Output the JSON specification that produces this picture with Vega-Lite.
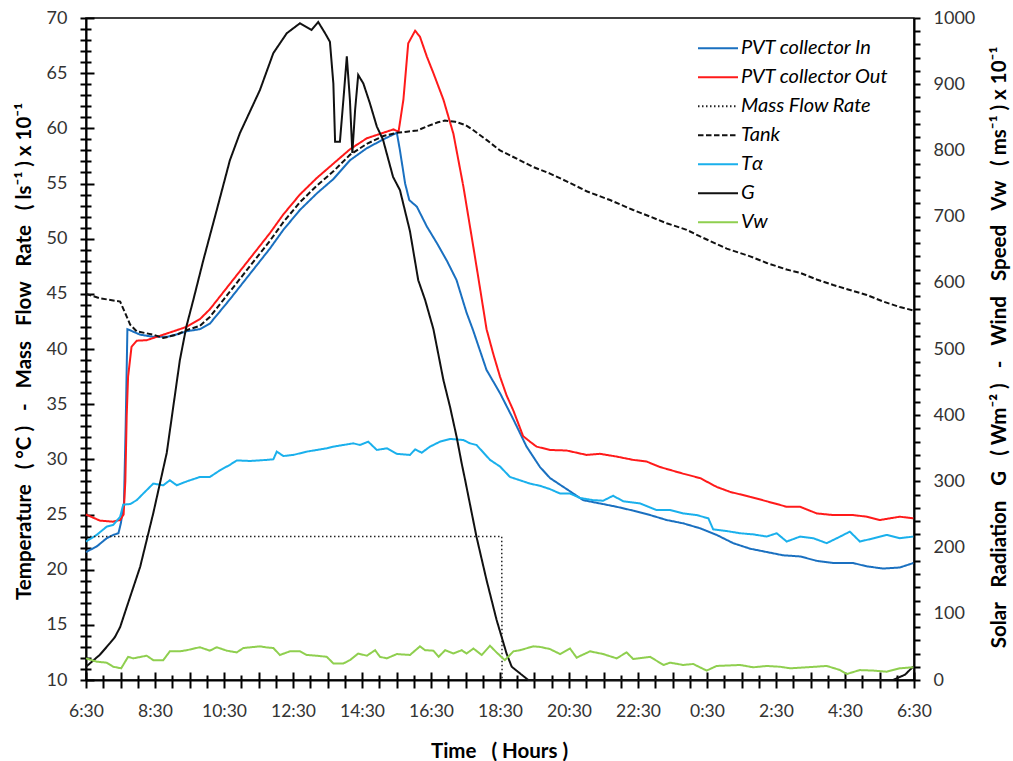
{
  "$schema": "https://vega.github.io/schema/vega-lite/v6.json",
  "width": 828,
  "height": 662,
  "autosize": {"type": "none"},
  "padding": {"left": 86, "top": 18, "right": 99, "bottom": 81},
  "background": "white",
  "config": {
    "font": "Lato",
    "view": {"stroke": "black", "strokeWidth": 1.5},
    "axis": {
      "domainColor": "black",
      "domainWidth": 2,
      "labelColor": "#333",
      "labelFontSize": 18,
      "labelFont": "Lato",
      "titleFont": "Lato",
      "titleFontSize": 20.5,
      "titleFontWeight": "bold",
      "titleColor": "black",
      "labelFlush": false,
      "labelOverlap": false,
      "ticks": true,
      "tickColor": "black",
      "tickWidth": 2,
      "grid": true,
      "gridColor": "black",
      "gridWidth": 2,
      "gridOpacity": 1
    }
  },
  "datasets": {
    "d": [
      {"s":"PVT collector In","t":0,"v":21.6},{"s":"PVT collector In","t":0.31,"v":22.1},{"s":"PVT collector In","t":0.6,"v":22.85},{"s":"PVT collector In","t":0.79,"v":23.15},{"s":"PVT collector In","t":0.94,"v":23.3},{"s":"PVT collector In","t":1.01,"v":24.2},{"s":"PVT collector In","t":1.1,"v":26},{"s":"PVT collector In","t":1.15,"v":33},{"s":"PVT collector In","t":1.2,"v":41.8},{"s":"PVT collector In","t":1.57,"v":41.3},{"s":"PVT collector In","t":1.95,"v":41.1},{"s":"PVT collector In","t":2.34,"v":41.1},{"s":"PVT collector In","t":2.72,"v":41.4},{"s":"PVT collector In","t":2.91,"v":41.6},{"s":"PVT collector In","t":3.3,"v":41.8},{"s":"PVT collector In","t":3.59,"v":42.3},{"s":"PVT collector In","t":4.17,"v":44.5},{"s":"PVT collector In","t":4.75,"v":46.8},{"s":"PVT collector In","t":5.33,"v":49.1},{"s":"PVT collector In","t":5.72,"v":50.8},{"s":"PVT collector In","t":6.2,"v":52.6},{"s":"PVT collector In","t":6.69,"v":54.1},{"s":"PVT collector In","t":7.17,"v":55.4},{"s":"PVT collector In","t":7.65,"v":57.1},{"s":"PVT collector In","t":8.14,"v":58.2},{"s":"PVT collector In","t":8.62,"v":59.0},{"s":"PVT collector In","t":9.01,"v":59.6},{"s":"PVT collector In","t":9.1,"v":58.0},{"s":"PVT collector In","t":9.25,"v":55.0},{"s":"PVT collector In","t":9.37,"v":53.5},{"s":"PVT collector In","t":9.59,"v":52.9},{"s":"PVT collector In","t":9.88,"v":51.1},{"s":"PVT collector In","t":10.17,"v":49.6},{"s":"PVT collector In","t":10.46,"v":48.0},{"s":"PVT collector In","t":10.74,"v":46.25},{"s":"PVT collector In","t":11.03,"v":43.3},{"s":"PVT collector In","t":11.22,"v":41.7},{"s":"PVT collector In","t":11.61,"v":38.1},{"s":"PVT collector In","t":12.0,"v":36.0},{"s":"PVT collector In","t":12.39,"v":33.6},{"s":"PVT collector In","t":12.77,"v":31.15},{"s":"PVT collector In","t":13.16,"v":29.3},{"s":"PVT collector In","t":13.45,"v":28.3},{"s":"PVT collector In","t":13.74,"v":27.7},{"s":"PVT collector In","t":14.03,"v":27.1},{"s":"PVT collector In","t":14.41,"v":26.3},{"s":"PVT collector In","t":14.9,"v":26.0},{"s":"PVT collector In","t":15.38,"v":25.7},{"s":"PVT collector In","t":15.86,"v":25.35},{"s":"PVT collector In","t":16.35,"v":24.95},{"s":"PVT collector In","t":16.83,"v":24.5},{"s":"PVT collector In","t":17.31,"v":24.2},{"s":"PVT collector In","t":17.8,"v":23.75},{"s":"PVT collector In","t":18.28,"v":23.15},{"s":"PVT collector In","t":18.76,"v":22.4},{"s":"PVT collector In","t":19.25,"v":21.9},{"s":"PVT collector In","t":19.73,"v":21.6},{"s":"PVT collector In","t":20.21,"v":21.3},{"s":"PVT collector In","t":20.7,"v":21.2},{"s":"PVT collector In","t":21.18,"v":20.8},{"s":"PVT collector In","t":21.66,"v":20.6},{"s":"PVT collector In","t":22.24,"v":20.6},{"s":"PVT collector In","t":22.63,"v":20.3},{"s":"PVT collector In","t":23.11,"v":20.1},{"s":"PVT collector In","t":23.59,"v":20.2},{"s":"PVT collector In","t":23.98,"v":20.6},

      {"s":"PVT collector Out","t":0,"v":25.0},{"s":"PVT collector Out","t":0.4,"v":24.45},{"s":"PVT collector Out","t":0.78,"v":24.35},{"s":"PVT collector Out","t":0.99,"v":24.5},{"s":"PVT collector Out","t":1.09,"v":25.0},{"s":"PVT collector Out","t":1.14,"v":28},{"s":"PVT collector Out","t":1.18,"v":34},{"s":"PVT collector Out","t":1.22,"v":37.5},{"s":"PVT collector Out","t":1.32,"v":40.2},{"s":"PVT collector Out","t":1.47,"v":40.75},{"s":"PVT collector Out","t":1.76,"v":40.8},{"s":"PVT collector Out","t":2.05,"v":41.1},{"s":"PVT collector Out","t":2.34,"v":41.4},{"s":"PVT collector Out","t":2.53,"v":41.6},{"s":"PVT collector Out","t":2.91,"v":42.0},{"s":"PVT collector Out","t":3.3,"v":42.7},{"s":"PVT collector Out","t":3.59,"v":43.6},{"s":"PVT collector Out","t":4.17,"v":45.9},{"s":"PVT collector Out","t":4.75,"v":48.2},{"s":"PVT collector Out","t":5.33,"v":50.5},{"s":"PVT collector Out","t":5.72,"v":52.2},{"s":"PVT collector Out","t":6.2,"v":54.0},{"s":"PVT collector Out","t":6.69,"v":55.5},{"s":"PVT collector Out","t":7.17,"v":56.8},{"s":"PVT collector Out","t":7.65,"v":58.1},{"s":"PVT collector Out","t":8.14,"v":59.1},{"s":"PVT collector Out","t":8.62,"v":59.6},{"s":"PVT collector Out","t":8.91,"v":59.9},{"s":"PVT collector Out","t":9.06,"v":59.7},{"s":"PVT collector Out","t":9.2,"v":62.6},{"s":"PVT collector Out","t":9.34,"v":67.7},{"s":"PVT collector Out","t":9.54,"v":68.85},{"s":"PVT collector Out","t":9.68,"v":68.3},{"s":"PVT collector Out","t":9.88,"v":66.5},{"s":"PVT collector Out","t":10.07,"v":65.0},{"s":"PVT collector Out","t":10.36,"v":62.6},{"s":"PVT collector Out","t":10.65,"v":59.5},{"s":"PVT collector Out","t":10.94,"v":54.7},{"s":"PVT collector Out","t":11.23,"v":49.2},{"s":"PVT collector Out","t":11.37,"v":46.5},{"s":"PVT collector Out","t":11.61,"v":41.8},{"s":"PVT collector Out","t":11.81,"v":39.5},{"s":"PVT collector Out","t":12.0,"v":37.5},{"s":"PVT collector Out","t":12.19,"v":35.8},{"s":"PVT collector Out","t":12.39,"v":34.4},{"s":"PVT collector Out","t":12.67,"v":32.1},{"s":"PVT collector Out","t":12.87,"v":31.6},{"s":"PVT collector Out","t":13.06,"v":31.15},{"s":"PVT collector Out","t":13.45,"v":30.85},{"s":"PVT collector Out","t":13.93,"v":30.8},{"s":"PVT collector Out","t":14.51,"v":30.4},{"s":"PVT collector Out","t":14.9,"v":30.5},{"s":"PVT collector Out","t":15.38,"v":30.25},{"s":"PVT collector Out","t":15.86,"v":29.95},{"s":"PVT collector Out","t":16.25,"v":29.8},{"s":"PVT collector Out","t":16.64,"v":29.3},{"s":"PVT collector Out","t":17.31,"v":28.7},{"s":"PVT collector Out","t":17.8,"v":28.3},{"s":"PVT collector Out","t":18.28,"v":27.5},{"s":"PVT collector Out","t":18.67,"v":27.05},{"s":"PVT collector Out","t":19.25,"v":26.6},{"s":"PVT collector Out","t":19.73,"v":26.2},{"s":"PVT collector Out","t":20.31,"v":25.7},{"s":"PVT collector Out","t":20.7,"v":25.7},{"s":"PVT collector Out","t":21.18,"v":25.1},{"s":"PVT collector Out","t":21.66,"v":24.95},{"s":"PVT collector Out","t":22.24,"v":24.95},{"s":"PVT collector Out","t":22.63,"v":24.8},{"s":"PVT collector Out","t":23.01,"v":24.5},{"s":"PVT collector Out","t":23.59,"v":24.8},{"s":"PVT collector Out","t":23.98,"v":24.65},

      {"s":"Mass Flow Rate","t":0,"v":23},{"s":"Mass Flow Rate","t":12.05,"v":23},{"s":"Mass Flow Rate","t":12.06,"v":10},

      {"s":"Tank","t":0,"v":45.0},{"s":"Tank","t":0.4,"v":44.6},{"s":"Tank","t":0.99,"v":44.3},{"s":"Tank","t":1.13,"v":43.3},{"s":"Tank","t":1.28,"v":42.2},{"s":"Tank","t":1.47,"v":41.6},{"s":"Tank","t":1.95,"v":41.3},{"s":"Tank","t":2.24,"v":41.0},{"s":"Tank","t":2.63,"v":41.3},{"s":"Tank","t":2.91,"v":41.7},{"s":"Tank","t":3.3,"v":42.1},{"s":"Tank","t":3.59,"v":42.9},{"s":"Tank","t":4.17,"v":45.2},{"s":"Tank","t":4.75,"v":47.5},{"s":"Tank","t":5.33,"v":49.8},{"s":"Tank","t":5.72,"v":51.5},{"s":"Tank","t":6.2,"v":53.3},{"s":"Tank","t":6.69,"v":54.8},{"s":"Tank","t":7.17,"v":56.1},{"s":"Tank","t":7.65,"v":57.6},{"s":"Tank","t":8.14,"v":58.6},{"s":"Tank","t":8.62,"v":59.3},{"s":"Tank","t":9.01,"v":59.6},{"s":"Tank","t":9.3,"v":59.7},{"s":"Tank","t":9.6,"v":59.8},{"s":"Tank","t":9.9,"v":60.2},{"s":"Tank","t":10.2,"v":60.55},{"s":"Tank","t":10.4,"v":60.7},{"s":"Tank","t":10.7,"v":60.6},{"s":"Tank","t":11.0,"v":60.3},{"s":"Tank","t":11.22,"v":59.85},{"s":"Tank","t":11.61,"v":58.95},{"s":"Tank","t":12.0,"v":58.0},{"s":"Tank","t":12.58,"v":57.1},{"s":"Tank","t":12.96,"v":56.5},{"s":"Tank","t":13.45,"v":55.9},{"s":"Tank","t":13.93,"v":55.2},{"s":"Tank","t":14.51,"v":54.3},{"s":"Tank","t":15.19,"v":53.5},{"s":"Tank","t":15.86,"v":52.6},{"s":"Tank","t":16.35,"v":52.0},{"s":"Tank","t":16.83,"v":51.4},{"s":"Tank","t":17.41,"v":50.8},{"s":"Tank","t":17.8,"v":50.2},{"s":"Tank","t":18.57,"v":49.1},{"s":"Tank","t":19.25,"v":48.4},{"s":"Tank","t":19.73,"v":47.8},{"s":"Tank","t":20.31,"v":47.2},{"s":"Tank","t":20.7,"v":46.9},{"s":"Tank","t":21.18,"v":46.3},{"s":"Tank","t":21.66,"v":45.8},{"s":"Tank","t":22.14,"v":45.35},{"s":"Tank","t":22.63,"v":44.9},{"s":"Tank","t":23.11,"v":44.3},{"s":"Tank","t":23.59,"v":43.8},{"s":"Tank","t":23.98,"v":43.5},

      {"s":"Tα","t":0,"v":22.55},{"s":"Tα","t":0.31,"v":23.15},{"s":"Tα","t":0.6,"v":23.9},{"s":"Tα","t":0.79,"v":24.05},{"s":"Tα","t":0.99,"v":24.8},{"s":"Tα","t":1.08,"v":25.9},{"s":"Tα","t":1.28,"v":25.95},{"s":"Tα","t":1.47,"v":26.3},{"s":"Tα","t":1.66,"v":26.9},{"s":"Tα","t":1.95,"v":27.8},{"s":"Tα","t":2.24,"v":27.65},{"s":"Tα","t":2.43,"v":28.1},{"s":"Tα","t":2.63,"v":27.65},{"s":"Tα","t":2.92,"v":28.0},{"s":"Tα","t":3.3,"v":28.4},{"s":"Tα","t":3.59,"v":28.4},{"s":"Tα","t":3.88,"v":29.0},{"s":"Tα","t":4.17,"v":29.5},{"s":"Tα","t":4.37,"v":29.9},{"s":"Tα","t":4.75,"v":29.85},{"s":"Tα","t":5.24,"v":29.95},{"s":"Tα","t":5.43,"v":30.0},{"s":"Tα","t":5.53,"v":30.7},{"s":"Tα","t":5.72,"v":30.3},{"s":"Tα","t":6.01,"v":30.4},{"s":"Tα","t":6.4,"v":30.7},{"s":"Tα","t":6.69,"v":30.85},{"s":"Tα","t":6.98,"v":31.0},{"s":"Tα","t":7.17,"v":31.15},{"s":"Tα","t":7.46,"v":31.3},{"s":"Tα","t":7.75,"v":31.45},{"s":"Tα","t":7.94,"v":31.3},{"s":"Tα","t":8.18,"v":31.6},{"s":"Tα","t":8.43,"v":30.85},{"s":"Tα","t":8.72,"v":31.0},{"s":"Tα","t":9.01,"v":30.5},{"s":"Tα","t":9.39,"v":30.4},{"s":"Tα","t":9.54,"v":30.9},{"s":"Tα","t":9.73,"v":30.6},{"s":"Tα","t":9.97,"v":31.15},{"s":"Tα","t":10.26,"v":31.6},{"s":"Tα","t":10.55,"v":31.85},{"s":"Tα","t":10.94,"v":31.75},{"s":"Tα","t":11.13,"v":31.45},{"s":"Tα","t":11.32,"v":31.3},{"s":"Tα","t":11.71,"v":29.95},{"s":"Tα","t":12.0,"v":29.35},{"s":"Tα","t":12.29,"v":28.4},{"s":"Tα","t":12.58,"v":28.1},{"s":"Tα","t":12.87,"v":27.8},{"s":"Tα","t":13.16,"v":27.6},{"s":"Tα","t":13.45,"v":27.3},{"s":"Tα","t":13.74,"v":26.9},{"s":"Tα","t":14.03,"v":26.9},{"s":"Tα","t":14.32,"v":26.5},{"s":"Tα","t":14.7,"v":26.3},{"s":"Tα","t":14.99,"v":26.25},{"s":"Tα","t":15.28,"v":26.7},{"s":"Tα","t":15.57,"v":26.2},{"s":"Tα","t":16.06,"v":26.0},{"s":"Tα","t":16.54,"v":25.4},{"s":"Tα","t":16.93,"v":25.4},{"s":"Tα","t":17.31,"v":25.1},{"s":"Tα","t":17.7,"v":24.95},{"s":"Tα","t":18.04,"v":24.65},{"s":"Tα","t":18.18,"v":23.65},{"s":"Tα","t":18.57,"v":23.5},{"s":"Tα","t":18.96,"v":23.3},{"s":"Tα","t":19.34,"v":23.2},{"s":"Tα","t":19.73,"v":23.0},{"s":"Tα","t":20.02,"v":23.3},{"s":"Tα","t":20.31,"v":22.55},{"s":"Tα","t":20.7,"v":23.0},{"s":"Tα","t":21.08,"v":22.85},{"s":"Tα","t":21.47,"v":22.4},{"s":"Tα","t":21.86,"v":23.0},{"s":"Tα","t":22.14,"v":23.45},{"s":"Tα","t":22.43,"v":22.55},{"s":"Tα","t":22.84,"v":22.85},{"s":"Tα","t":23.21,"v":23.15},{"s":"Tα","t":23.59,"v":22.85},{"s":"Tα","t":23.98,"v":23.0},

      {"s":"G","t":0,"v":20},{"s":"G","t":0.4,"v":38},{"s":"G","t":0.7,"v":56},{"s":"G","t":0.84,"v":65},{"s":"G","t":0.99,"v":80},{"s":"G","t":1.18,"v":110},{"s":"G","t":1.57,"v":171},{"s":"G","t":1.95,"v":252},{"s":"G","t":2.34,"v":343},{"s":"G","t":2.72,"v":483},{"s":"G","t":2.91,"v":534},{"s":"G","t":3.11,"v":574},{"s":"G","t":3.4,"v":634},{"s":"G","t":3.79,"v":710},{"s":"G","t":4.17,"v":785},{"s":"G","t":4.46,"v":826},{"s":"G","t":5.04,"v":891},{"s":"G","t":5.43,"v":947},{"s":"G","t":5.82,"v":977},{"s":"G","t":6.2,"v":992},{"s":"G","t":6.54,"v":982},{"s":"G","t":6.73,"v":994},{"s":"G","t":6.93,"v":977},{"s":"G","t":7.07,"v":964},{"s":"G","t":7.17,"v":901},{"s":"G","t":7.22,"v":813},{"s":"G","t":7.36,"v":813},{"s":"G","t":7.46,"v":876},{"s":"G","t":7.56,"v":942},{"s":"G","t":7.65,"v":876},{"s":"G","t":7.72,"v":796},{"s":"G","t":7.8,"v":861},{"s":"G","t":7.89,"v":914},{"s":"G","t":8.04,"v":901},{"s":"G","t":8.23,"v":871},{"s":"G","t":8.43,"v":836},{"s":"G","t":8.61,"v":816},{"s":"G","t":8.9,"v":760},{"s":"G","t":9.1,"v":740},{"s":"G","t":9.39,"v":678},{"s":"G","t":9.63,"v":604},{"s":"G","t":9.83,"v":574},{"s":"G","t":10.07,"v":530},{"s":"G","t":10.36,"v":453},{"s":"G","t":10.55,"v":413},{"s":"G","t":10.74,"v":368},{"s":"G","t":10.89,"v":327},{"s":"G","t":10.99,"v":302},{"s":"G","t":11.32,"v":216},{"s":"G","t":11.61,"v":151},{"s":"G","t":11.9,"v":91},{"s":"G","t":12.19,"v":40},{"s":"G","t":12.34,"v":20},{"s":"G","t":12.58,"v":10},{"s":"G","t":12.82,"v":0},{"s":"G","t":23.39,"v":0},{"s":"G","t":23.74,"v":8},{"s":"G","t":23.97,"v":20},

      {"s":"Vw","t":0,"v":32.7},{"s":"Vw","t":0.31,"v":27.7},{"s":"Vw","t":0.6,"v":26.2},{"s":"Vw","t":0.79,"v":20.0},{"s":"Vw","t":1.02,"v":17.7},{"s":"Vw","t":1.22,"v":35.0},{"s":"Vw","t":1.37,"v":32.7},{"s":"Vw","t":1.76,"v":36.7},{"s":"Vw","t":1.95,"v":30.0},{"s":"Vw","t":2.24,"v":30.0},{"s":"Vw","t":2.43,"v":43.3},{"s":"Vw","t":2.72,"v":43.3},{"s":"Vw","t":2.92,"v":45.0},{"s":"Vw","t":3.3,"v":49.5},{"s":"Vw","t":3.59,"v":44.3},{"s":"Vw","t":3.79,"v":49.5},{"s":"Vw","t":4.08,"v":44.3},{"s":"Vw","t":4.37,"v":41.7},{"s":"Vw","t":4.56,"v":48.3},{"s":"Vw","t":5.04,"v":50.8},{"s":"Vw","t":5.24,"v":49.2},{"s":"Vw","t":5.43,"v":48.3},{"s":"Vw","t":5.62,"v":37.8},{"s":"Vw","t":5.91,"v":43.3},{"s":"Vw","t":6.2,"v":43.3},{"s":"Vw","t":6.4,"v":37.8},{"s":"Vw","t":6.69,"v":36.7},{"s":"Vw","t":6.98,"v":35.0},{"s":"Vw","t":7.17,"v":25.0},{"s":"Vw","t":7.46,"v":25.0},{"s":"Vw","t":7.65,"v":30.0},{"s":"Vw","t":7.89,"v":40.0},{"s":"Vw","t":8.14,"v":36.7},{"s":"Vw","t":8.38,"v":45.0},{"s":"Vw","t":8.52,"v":35.0},{"s":"Vw","t":8.72,"v":32.7},{"s":"Vw","t":9.01,"v":39.2},{"s":"Vw","t":9.39,"v":37.8},{"s":"Vw","t":9.68,"v":50.8},{"s":"Vw","t":9.83,"v":45.0},{"s":"Vw","t":10.07,"v":44.3},{"s":"Vw","t":10.22,"v":35.0},{"s":"Vw","t":10.41,"v":45.0},{"s":"Vw","t":10.65,"v":40.0},{"s":"Vw","t":10.89,"v":45.0},{"s":"Vw","t":11.03,"v":40.0},{"s":"Vw","t":11.23,"v":47.5},{"s":"Vw","t":11.47,"v":37.8},{"s":"Vw","t":11.71,"v":51.7},{"s":"Vw","t":11.9,"v":41.7},{"s":"Vw","t":12.14,"v":30.0},{"s":"Vw","t":12.39,"v":43.3},{"s":"Vw","t":12.58,"v":45.0},{"s":"Vw","t":12.96,"v":50.8},{"s":"Vw","t":13.16,"v":50.0},{"s":"Vw","t":13.45,"v":46.7},{"s":"Vw","t":13.74,"v":39.2},{"s":"Vw","t":14.03,"v":47.5},{"s":"Vw","t":14.22,"v":33.8},{"s":"Vw","t":14.61,"v":43.3},{"s":"Vw","t":14.99,"v":39.2},{"s":"Vw","t":15.38,"v":32.7},{"s":"Vw","t":15.67,"v":41.7},{"s":"Vw","t":15.86,"v":31.7},{"s":"Vw","t":16.35,"v":35.0},{"s":"Vw","t":16.74,"v":22.7},{"s":"Vw","t":16.93,"v":26.2},{"s":"Vw","t":17.31,"v":22.7},{"s":"Vw","t":17.6,"v":24.2},{"s":"Vw","t":17.99,"v":14.2},{"s":"Vw","t":18.28,"v":21.2},{"s":"Vw","t":18.96,"v":22.7},{"s":"Vw","t":19.34,"v":19.2},{"s":"Vw","t":19.73,"v":21.2},{"s":"Vw","t":20.12,"v":20.0},{"s":"Vw","t":20.41,"v":17.7},{"s":"Vw","t":20.89,"v":19.2},{"s":"Vw","t":21.47,"v":21.2},{"s":"Vw","t":21.86,"v":15.0},{"s":"Vw","t":22.05,"v":9.0},{"s":"Vw","t":22.43,"v":15.0},{"s":"Vw","t":22.82,"v":14.2},{"s":"Vw","t":23.21,"v":12.5},{"s":"Vw","t":23.59,"v":17.7},{"s":"Vw","t":23.98,"v":19.2}
    ]
  },
  "data": {"name": "d"},
  "encoding": {
    "x": {
      "field": "t",
      "type": "quantitative",
      "scale": {"domain": [0, 24], "nice": false, "zero": false},
      "axis": {
        "title": "Time \u00a0\u00a0( Hours )",
        "values": [0,0.5,1,1.5,2,2.5,3,3.5,4,4.5,5,5.5,6,6.5,7,7.5,8,8.5,9,9.5,10,10.5,11,11.5,12,12.5,13,13.5,14,14.5,15,15.5,16,16.5,17,17.5,18,18.5,19,19.5,20,20.5,21,21.5,22,22.5,23,23.5,24],
        "labelExpr": "datum.value % 2 === 0 ? ((datum.value + 6) % 24) + ':30' : ''",
        "tickSize": 8,
        "gridDash": {"condition": {"test": "datum.value % 1 === 0", "value": [0, 654, 8, 2000]}, "value": [0, 657, 5, 2000]},
        "labelFontSize": 17.5,
        "labelPadding": 14,
        "titleX": 413,
        "titleY": 77,
        "titleBaseline": "alphabetic",
        "titleAlign": "center"
      }
    }
  },
  "layer": [
    {
      "encoding": {
        "y": {
          "field": "v",
          "type": "quantitative",
          "scale": {"domain": [10, 70], "nice": false, "zero": false},
          "axis": {
            "title": "Temperature \u00a0\u00a0( °C ) \u00a0\u00a0- \u00a0\u00a0Mass \u00a0\u00a0Flow \u00a0\u00a0Rate \u00a0\u00a0( ls⁻¹ ) x 10⁻¹",
            "values": [10,11,12,13,14,15,16,17,18,19,20,21,22,23,24,25,26,27,28,29,30,31,32,33,34,35,36,37,38,39,40,41,42,43,44,45,46,47,48,49,50,51,52,53,54,55,56,57,58,59,60,61,62,63,64,65,66,67,68,69,70],
            "labelExpr": "datum.value % 5 === 0 ? datum.label : ''",
            "tickSize": 6,
            "gridDash": {"condition": {"test": "datum.value % 5 === 0", "value": [8, 2000]}, "value": [5, 2000]},
            "labelPadding": 13,
            "titleX": -62,
            "titleY": 333,
            "titleAngle": 270,
            "titleAlign": "center",
            "titleBaseline": "middle"
          }
        }
      },
      "layer": [
        {
          "transform": [{"filter": "datum.s !== 'G' && datum.s !== 'Vw' && datum.s !== 'Mass Flow Rate'"}],
          "mark": {"type": "line", "strokeWidth": 2},
          "encoding": {
            "color": {
              "field": "s",
              "type": "nominal",
              "scale": {
                "domain": ["PVT collector In", "PVT collector Out", "Mass Flow Rate", "Tank", "Tα", "G", "Vw"],
                "range": ["#1a70c0", "#ff1a1a", "#222222", "#111111", "#1ab0ec", "#111111", "#8fcf4f"]
              },
              "legend": {"orient": "none", "legendX": 611, "legendY": 16, "title": null, "symbolType": "stroke", "symbolSize": 1600, "symbolStrokeWidth": 2, "labelFontSize": 20, "labelFontStyle": "italic", "labelColor": "black", "labelOffset": 2, "rowPadding": 0, "clipHeight": 28.5, "padding": 0, "labelLimit": 300}
            },
            "strokeDash": {
              "field": "s",
              "type": "nominal",
              "scale": {
                "domain": ["PVT collector In", "PVT collector Out", "Mass Flow Rate", "Tank", "Tα", "G", "Vw"],
                "range": [[1,0],[1,0],[1.5,2.5],[5.5,2.5],[1,0],[1,0],[1,0]]
              },
              "legend": {"orient": "none", "legendX": 611, "legendY": 16, "title": null, "symbolType": "stroke", "symbolSize": 1600, "symbolStrokeWidth": 2, "labelFontSize": 20, "labelFontStyle": "italic", "labelColor": "black", "labelOffset": 2, "rowPadding": 0, "clipHeight": 28.5, "padding": 0, "labelLimit": 300}
            }
          }
        },
        {
          "transform": [{"filter": "datum.s === 'Mass Flow Rate'"}],
          "mark": {"type": "line", "strokeWidth": 1.5},
          "encoding": {
            "color": {"field": "s", "type": "nominal"},
            "strokeDash": {"field": "s", "type": "nominal"}
          }
        }
      ]
    },
    {
      "transform": [{"filter": "datum.s === 'G' || datum.s === 'Vw'"}],
      "mark": {"type": "line", "strokeWidth": 2},
      "encoding": {
        "y": {
          "field": "v",
          "type": "quantitative",
          "scale": {"domain": [0, 1000], "nice": false, "zero": false},
          "axis": {
            "orient": "right",
            "title": "Solar \u00a0\u00a0Radiation \u00a0\u00a0G \u00a0\u00a0( Wm⁻² ) \u00a0\u00a0- \u00a0\u00a0Wind \u00a0\u00a0Speed \u00a0\u00a0Vw \u00a0\u00a0( ms⁻¹ ) x 10⁻¹",
            "values": [0,20,40,60,80,100,120,140,160,180,200,220,240,260,280,300,320,340,360,380,400,420,440,460,480,500,520,540,560,580,600,620,640,660,680,700,720,740,760,780,800,820,840,860,880,900,920,940,960,980,1000],
            "labelExpr": "datum.value % 100 === 0 ? '' + datum.value : ''",
            "tickSize": 6,
            "gridDash": {"condition": {"test": "datum.value % 100 === 0", "value": [8, 2000]}, "value": [5, 2000]},
            "labelPadding": 13,
            "titleX": 85,
            "titleY": 329,
            "titleAngle": 270,
            "titleAlign": "center",
            "titleBaseline": "middle"
          }
        },
        "color": {"field": "s", "type": "nominal"},
        "strokeDash": {"field": "s", "type": "nominal"}
      }
    }
  ],
  "resolve": {"scale": {"y": "independent"}}
}
